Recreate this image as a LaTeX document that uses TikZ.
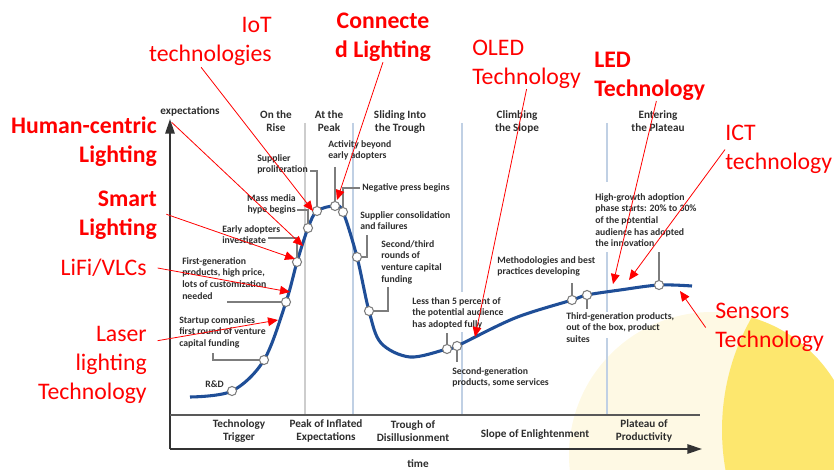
\documentclass[tikz,border=0pt]{standalone}
\usepackage{fontspec}
\setmainfont{Carlito}
\usetikzlibrary{arrows.meta,shapes}

\definecolor{hypeblue}{RGB}{31,78,151}
\definecolor{leadgray}{RGB}{125,125,125}
\definecolor{sepblue}{RGB}{192,208,228}
\definecolor{sepgray}{RGB}{205,205,205}
\definecolor{palecream}{RGB}{254,249,228}
\definecolor{sunyellow}{RGB}{253,231,110}
\definecolor{labelred}{RGB}{255,0,0}
\definecolor{inkgray}{RGB}{45,45,45}

\tikzset{
    note/.style={font=\fontsize{7.3}{8.75}\selectfont\bfseries, text=inkgray, align=left, inner sep=0pt},
    phase/.style={note, font=\fontsize{8.4}{10.4}\selectfont\bfseries, align=center},
    tech/.style={font=\fontsize{17.8}{21.8}\selectfont, text=labelred, inner sep=0pt},
    techbold/.style={tech, font=\fontsize{17.8}{21.8}\selectfont\bfseries},
    dot/.style={circle, draw=leadgray, fill=white, line width=0.8pt, inner sep=0pt, minimum size=6.8pt},
    leader/.style={draw=leadgray, line width=1.2pt},
    pointer/.style={draw=labelred, line width=0.6pt, -{Triangle[length=7.5pt,width=6.5pt]}},
    hype/.style={draw=hypeblue, line width=2.3pt},
    axis/.style={draw=black!80, line width=1.5pt}
}

\begin{document}
\begin{tikzpicture}[x=0.75pt, y=-0.75pt]
    \clip (0,0) rectangle (834,470);

    % background sun
    \fill[palecream] (712,455) circle (143);
    \begin{scope}
        \clip (712,455) circle (143);
        \fill[sunyellow] (950,430) circle (228);
    \end{scope}

    % phase separators
    \draw[sepgray, line width=2.2pt] (305,123) -- (305,414);
    \draw[sepblue, line width=1.4pt] (353,123) -- (353,414);
    \draw[sepblue, line width=1.4pt] (462,123) -- (462,292);
    \draw[sepblue, line width=1.4pt] (462,332) -- (462,414);
    \draw[sepblue, line width=1.4pt] (607,123) -- (607,182);
    \draw[sepblue, line width=1.4pt] (607,252) -- (607,312);
    \draw[sepblue, line width=1.4pt] (607,338) -- (607,414);

    % axes
    \coordinate(origin) at (170,449);
    \coordinate(ytop)   at (170,119);
    \coordinate(xend)   at (702,449);
    \coordinate(bandl)  at (170,415);
    \coordinate(bandr)  at (700,415);
    \draw[axis, -{Triangle[length=11pt,width=7pt]}] (origin) -- (ytop);
    \draw[axis, -{Triangle[length=11pt,width=7pt]}] (origin) -- (xend);
    \draw[axis, draw=black!65] (bandl) -- (bandr);

    % hype curve
    \draw[hype] plot[smooth, tension=0.55] coordinates {
        (190,397) (232,391) (264,360) (286,302) (297,262) (308,228)
        (317,211) (335,206) (343,212) (357,257) (369,311) (381,343)
        (410,357) (447,349) (457,346) (515,318) (572,300) (587,295)
        (620,290) (659,285) (692,286)};

    % points on the curve
    \node(pRD)       [dot] at (232,391) {};
    \node(pStart)    [dot] at (264,360) {};
    \node(pFirst)    [dot] at (286,302) {};
    \node(pEarly)    [dot] at (297,262) {};
    \node(pHype)     [dot] at (308,228) {};
    \node(pProlif)   [dot] at (317,211) {};
    \node(pActivity) [dot] at (335,206) {};
    \node(pNegative) [dot] at (343,212) {};
    \node(pConsol)   [dot] at (357,257) {};
    \node(pRounds)   [dot] at (369,311) {};
    \node(pLess)     [dot] at (447,349) {};
    \node(pSecond)   [dot] at (457,346) {};
    \node(pMethod)   [dot] at (572,300) {};
    \node(pThird)    [dot] at (587,295) {};
    \node(pHigh)     [dot] at (659,285) {};

    % axis and phase labels
    \node(exp)      [phase] at (190,111) {expectations};
    \node(time)     [phase] at (418,464) {time};
    \node(rise)     [phase, anchor=north] at (276,110) {On the\\Rise};
    \node(peak)     [phase, anchor=north] at (329,110) {At the\\Peak};
    \node(trough)   [phase, anchor=north] at (400,110) {Sliding Into\\the Trough};
    \node(slope)    [phase, anchor=north] at (517,110) {Climbing\\the Slope};
    \node(plateau)  [phase, anchor=north] at (658,110) {Entering\\the Plateau};
    \node(trigger)  [phase, anchor=north] at (239,419) {Technology\\Trigger};
    \node(inflated) [phase, anchor=north] at (326,419) {Peak of Inflated\\Expectations};
    \node(disill)   [phase, anchor=north] at (413,420) {Trough of\\Disillusionment};
    \node(enlight)  [phase] at (535,435) {Slope of Enlightenment};
    \node(product)  [phase, anchor=north] at (644,419) {Plateau of\\Productivity};

    % notes on the curve
    \node(tRD)       [note, anchor=north west] at (205,381) {R\&D};
    \node(tStart)    [note, anchor=north west] at (179,316) {Startup companies\\first round of venture\\capital funding};
    \node(tFirst)    [note, anchor=north west] at (182,257) {First-generation\\products, high price,\\lots of customization\\needed};
    \node(tEarly)    [note, anchor=north west] at (222,225) {Early adopters\\investigate};
    \node(tHype)     [note, anchor=north east, align=right] at (296,194) {Mass media\\hype begins};
    \node(tProlif)   [note, anchor=north west] at (257,154) {Supplier\\proliferation};
    \node(tActivity) [note, anchor=north west] at (328,140) {Activity beyond\\early adopters};
    \node(tNegative) [note, anchor=north west] at (362,183) {Negative press begins};
    \node(tConsol)   [note, anchor=north west] at (360,211) {Supplier consolidation\\and failures};
    \node(tRounds)   [note, anchor=north west] at (381,240) {Second/third\\rounds of\\venture capital\\funding};
    \node(tLess)     [note, anchor=north west] at (412,297) {Less than 5 percent of\\the potential audience\\has adopted fully};
    \node(tSecond)   [note, anchor=north west] at (452,367) {Second-generation\\products, some services};
    \node(tMethod)   [note, anchor=north west] at (497,256) {Methodologies and best\\practices developing};
    \node(tThird)    [note, anchor=north west] at (566,312) {Third-generation products,\\out of the box, product\\suites};
    \node(tHigh)     [note, anchor=north west] at (595,193) {High-growth adoption\\phase starts: 20\% to 30\%\\of the potential\\audience has adopted\\the innovation};

    % leaders from notes to points
    \coordinate(lStart)    at (213,353);
    \coordinate(lFirst)    at (227,302);
    \coordinate(lEarly)    at (268,238);
    \coordinate(lHype)     at (297,210);
    \coordinate(lProlif)   at (310,171);
    \coordinate(lActivity) at (335,167);
    \coordinate(lNegative) at (360,188);
    \coordinate(lConsol)   at (367,235);
    \coordinate(lRounds)   at (388,287);
    \coordinate(lLess)     at (447,333);
    \coordinate(lSecond)   at (457,362);
    \coordinate(lMethod)   at (572,283);
    \coordinate(lThird)    at (587,309);
    \coordinate(lHigh)     at (659,252);
    \draw[leader] (lStart) |- (pStart);
    \draw[leader] (lFirst) -- (pFirst);
    \draw[leader] (lEarly) -| (pEarly);
    \draw[leader] (lHype) -| (pHype);
    \draw[leader] (lProlif) -| (pProlif);
    \draw[leader] (lActivity) -- (pActivity);
    \draw[leader] (lNegative) -| (pNegative);
    \draw[leader] (lConsol) |- (pConsol);
    \draw[leader] (lRounds) |- (pRounds);
    \draw[leader] (lLess) -- (pLess);
    \draw[leader] (pSecond) -- (lSecond);
    \draw[leader] (lMethod) -- (pMethod);
    \draw[leader] (pThird) -- (lThird);
    \draw[leader] (lHigh) -- (pHigh);

    % red technology labels
    \node(IoT)     [tech, anchor=north east, align=right] at (272,17) {IoT\\technologies};
    \node(Conn)    [techbold, anchor=north, align=center] at (383,13) {Connecte\\d Lighting};
    \node(OLED)    [tech, anchor=north west, align=left] at (472,40) {OLED\\Technology};
    \node(LED)     [techbold, anchor=north west, align=left] at (594,52) {LED\\Technology};
    \node(ICT)     [tech, anchor=north west, align=left] at (725,125) {ICT\\technology};
    \node(Human)   [techbold, anchor=north east, align=right] at (157,117) {Human-centric\\Lighting};
    \node(Smart)   [techbold, anchor=north east, align=right] at (157,191) {Smart\\Lighting};
    \node(LiFi)    [tech, anchor=north east, align=right] at (147,259) {LiFi/VLCs};
    \node(Laser)   [tech, anchor=north east, align=right] at (147,326) {Laser\\lighting\\Technology};
    \node(Sensors) [tech, anchor=north west, align=left] at (715,303) {Sensors\\Technology};

    % arrows to the curve
    \coordinate(aIoT)     at (313,211);
    \coordinate(aConn)    at (337,200);
    \coordinate(aHuman)   at (303,246);
    \coordinate(aSmart)   at (295,259);
    \coordinate(aLiFi)    at (290,292);
    \coordinate(aLaser)   at (278,320);
    \coordinate(aOLED)    at (475,337);
    \coordinate(aLED)     at (613,284);
    \coordinate(aICT)     at (629,280);
    \coordinate(aSensors) at (680,291);
    \draw[pointer] ([xshift=-7pt,yshift=-1pt]IoT.south) -- (aIoT);
    \draw[pointer] (Conn.south) -- (aConn);
    \draw[pointer] ([xshift=11pt,yshift=-4pt]Human.north east) -- (aHuman);
    \draw[pointer] ([xshift=7pt,yshift=1pt]Smart.east) -- (aSmart);
    \draw[pointer] ([xshift=8pt,yshift=0pt]LiFi.east) -- (aLiFi);
    \draw[pointer] ([xshift=8pt,yshift=-11pt]Laser.north east) -- (aLaser);
    \draw[pointer] (OLED.south) -- (aOLED);
    \draw[pointer] ([xshift=5pt]LED.south) -- (aLED);
    \draw[pointer] ([yshift=0pt]ICT.west) -- (aICT);
    \draw[pointer] ([xshift=-7pt]Sensors.west) -- (aSensors);

\end{tikzpicture}
\end{document}
